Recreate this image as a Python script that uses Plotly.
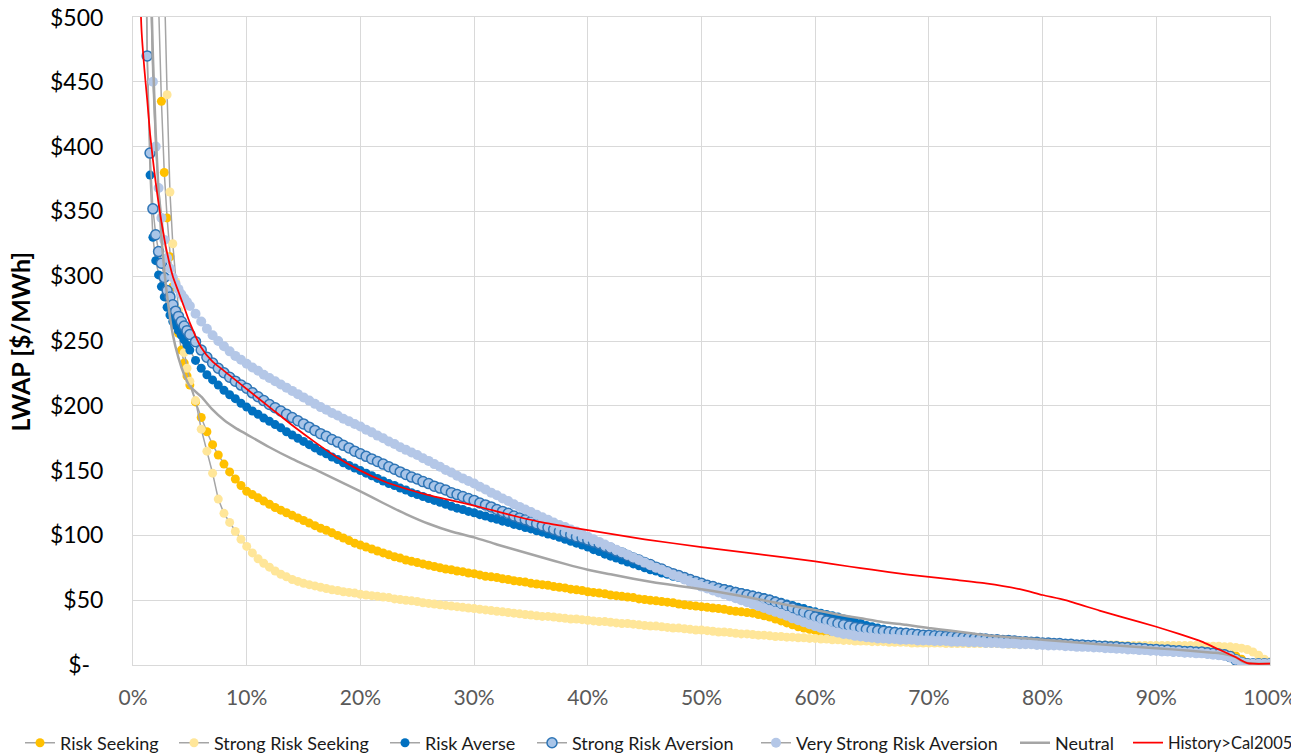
import plotly.graph_objects as go

# x grid: load-duration percentile (%)
X_FINE = [1.00, 1.25, 1.50, 1.75, 2.00, 2.25, 2.50, 2.75, 3.00, 3.25, 3.50, 3.75, 4.00, 4.25, 4.50, 4.75, 5.00]
X_COARSE = [5.5 + 0.5 * i for i in range(190)]
X_PCT = X_FINE + X_COARSE

RISK_SEEKING = [
    1500, 1200, 950, 780, 620, 510, 435, 380, 345, 315, 292, 272, 256, 243, 233, 223, 216,
    203, 191, 180, 170, 162, 155, 149, 143.5, 138.5, 134,
    131.5, 129, 126.5, 124, 121.5, 119.5, 117.5, 115.5, 113.5, 111.5,
    109.5, 107.5, 105.5, 104, 102, 100, 98, 96, 94, 92.5,
    91, 89.5, 88, 86.5, 85, 83.5, 82.5, 81, 80, 79,
    78, 77, 76, 75, 74, 73.5, 72.5, 72, 71, 70.5,
    69.5, 68.5, 68, 67.5, 66.5, 66, 65, 64.5, 64, 63,
    62.5, 62, 61.5, 60.5, 60, 59.5, 58.5, 58, 57.5, 56.5,
    56, 55.5, 55, 54, 53.5, 53, 52.5, 52, 51, 50.5,
    50, 49.5, 49, 48.5, 48, 47, 46.5, 46, 45.5, 45,
    44.5, 44, 43.5, 43, 42, 41.5, 41, 40.5, 40, 39,
    38, 37, 35.5, 34, 32.5, 31, 29.5, 28.5, 27.5, 26.5,
    25.5, 24.5, 24, 23, 22.5, 22, 21.5, 21, 20.5, 20.5,
    20, 20, 19.5, 19.5, 19.5, 19, 19, 19, 18.5, 18.5,
    18.5, 18.5, 18, 18, 18, 18, 17.5, 17.5, 17.5, 17.5,
    17.5, 17, 17, 17, 17, 16.5, 16.5, 16.5, 16.5, 16,
    16, 16, 15.5, 15.5, 15.5, 15, 15, 15, 15, 14.5,
    14.5, 14.5, 14, 14, 14, 13.5, 13.5, 13.5, 13, 13,
    13, 12.5, 12.5, 12.5, 12, 12, 11.5, 11.5, 11, 11,
    10.5, 10, 9, 7, 4.5, 2, 1, 0.5, 0.5, 0.5,
]

STRONG_RISK_SEEKING = [
    2500, 2000, 1600, 1300, 1050, 850, 680, 530, 440, 365, 325, 296, 274, 256, 241, 229, 219,
    204, 182, 165, 148, 128, 117, 110, 103, 97, 91.5,
    86.5, 82, 78.5, 75.5, 72.5, 70, 68, 66, 64.5, 63,
    62, 61, 60, 59, 58, 57.5, 56.5, 56, 55.5, 54.5,
    54, 53.5, 53, 52.5, 52, 51, 50.5, 50, 49.5, 49,
    48, 47.5, 47, 46.5, 46, 45.5, 45, 44.5, 44, 43.5,
    43, 42.5, 42, 41.5, 41, 40.5, 40, 39.5, 39, 38.5,
    38, 37.5, 37.5, 37, 36.5, 36, 35.5, 35.5, 35, 34.5,
    34, 33.5, 33.5, 33, 32.5, 32, 32, 31.5, 31, 30.5,
    30, 30, 29.5, 29, 28.5, 28.5, 28, 27.5, 27, 27,
    26.5, 26, 25.5, 25.5, 25, 24.5, 24, 24, 23.5, 23,
    23, 22.5, 22, 22, 21.5, 21.5, 21, 21, 20.5, 20.5,
    20, 20, 19.5, 19.5, 19, 19, 18.5, 18.5, 18.5, 18,
    18, 18, 17.5, 17.5, 17.5, 17.5, 17, 17, 17, 17,
    17, 17, 16.5, 16.5, 16.5, 16.5, 16.5, 16.5, 16.5, 16.5,
    16.5, 16.5, 16.5, 16, 16, 16, 16, 16, 16, 16,
    16, 16, 16, 16, 15.5, 15.5, 15.5, 15.5, 15.5, 15.5,
    15.5, 15.5, 15.5, 15, 15, 15, 15, 15, 15, 15,
    15, 15, 15, 15, 15, 15, 15, 15, 14.5, 14.5,
    14.5, 14, 14, 13.5, 13, 12, 10, 7.5, 4.5, 2.5,
]

RISK_AVERSE = [
    620, 470, 378, 330, 312, 301, 292, 284, 276, 270, 265, 262, 258, 254.5, 251, 247, 243,
    235, 229, 224, 220, 216, 212, 208.5, 205.5, 202, 199,
    196, 193.5, 190.5, 188, 185.5, 183, 180, 177.5, 175, 172.5,
    170, 167.5, 165, 163, 160.5, 158.5, 156, 154, 152, 150,
    148, 146, 144, 142, 140, 138.5, 136.5, 135, 133, 131.5,
    130, 128.5, 127, 125.5, 124, 122.5, 121, 120, 118.5, 117.5,
    116, 115, 113.5, 112.5, 111, 110, 108.5, 107.5, 106, 105,
    103.5, 102.5, 101, 100, 98.5, 97, 95.5, 94, 92.5, 91,
    89, 87.5, 85.5, 84, 82.5, 81, 79.5, 78, 76.5, 75,
    73.5, 72.5, 71, 70, 68.5, 67.5, 66, 65, 64, 63,
    62, 61, 60, 59, 58, 57, 56, 55, 54, 53,
    52, 51, 49.5, 48.5, 47, 46, 44.5, 43.5, 42, 41,
    40, 39, 38, 37, 35.5, 34.5, 33, 32, 30.5, 29.5,
    28.5, 27.5, 26.5, 26, 25.5, 25, 24.5, 24, 23.5, 23,
    22.5, 22, 22, 21.5, 21.5, 21, 21, 20.5, 20.5, 20,
    19.5, 19.5, 19, 19, 18.5, 18, 18, 17.5, 17.5, 17,
    17, 16.5, 16.5, 16, 16, 15.5, 15.5, 15, 15, 14.5,
    14.5, 14, 14, 13.5, 13.5, 13, 13, 12.5, 12.5, 12,
    12, 11.5, 11.5, 11, 11, 10.5, 10.5, 10, 10, 9.5,
    9, 8.5, 7, 4.5, 2, 1, 0.5, 0.5, 0.5, 0.5,
]

STRONG_RISK_AVERSION = [
    700, 470, 395, 352, 332, 319, 310, 299, 289, 284, 278, 273, 269, 265, 261.5, 258, 255,
    249.5, 243, 237.5, 233, 229, 225.5, 222, 219, 216, 213.5,
    210, 207, 204, 201, 198.5, 196, 193.5, 191, 188.5, 186,
    183.5, 181, 178.5, 176.5, 174, 172, 169.5, 167.5, 165, 163,
    161, 159, 157, 155, 153, 151, 149, 147, 145, 143.5,
    141.5, 140, 138, 136.5, 135, 133, 131.5, 130, 128.5, 127,
    125, 123.5, 122, 120, 118.5, 117, 115, 113.5, 112, 110.5,
    109, 107.5, 106, 104.5, 103, 102, 100.5, 99, 98, 96.5,
    95, 93.5, 91.5, 90, 88, 86.5, 84.5, 82.5, 81, 79,
    77.5, 75.5, 74, 72, 70.5, 69, 67.5, 66, 64.5, 63,
    61.5, 60.5, 59, 58, 57, 56, 55, 54, 53, 52,
    51, 50, 48.5, 47, 45.5, 44, 42, 40.5, 38.5, 37,
    35.5, 34, 33, 32, 31, 30, 29, 28.5, 27.5, 27,
    26.5, 26, 25.5, 25, 24.5, 24.5, 24, 23.5, 23, 23,
    22.5, 22.5, 22, 22, 21.5, 21, 21, 20.5, 20.5, 20,
    19.5, 19.5, 19, 19, 18.5, 18, 18, 17.5, 17.5, 17,
    17, 16.5, 16.5, 16, 16, 15.5, 15.5, 15, 15, 14.5,
    14.5, 14, 14, 13.5, 13.5, 13, 13, 12.5, 12, 12,
    11.5, 11.5, 11, 11, 10.5, 10.5, 10, 10, 9.5, 9,
    8.5, 8, 6.5, 4, 2, 1, 1, 1, 1, 1,
]

VERY_STRONG_RISK_AVERSION = [
    1000, 700, 540, 450, 400, 368, 345, 328, 314, 306, 299, 294, 290, 286, 283, 280, 277,
    271, 265, 259.5, 254.5, 250, 246, 242, 238.5, 235.5, 232.5,
    229.5, 227, 224, 221.5, 219, 216.5, 214, 211.5, 209, 206.5,
    204, 201.5, 199, 197, 194.5, 192.5, 190, 188, 186, 184,
    181.5, 179.5, 177, 175, 172.5, 170.5, 168, 166, 164, 162,
    159.5, 157.5, 155, 153, 150.5, 148.5, 146, 144, 142, 140,
    137.5, 135.5, 133, 131, 128.5, 126.5, 124, 122, 120, 118,
    116, 114, 112, 110, 108, 106.5, 104.5, 103, 101, 99,
    97, 95, 93, 91, 89, 87, 85, 83, 81, 79,
    77, 75, 73.5, 71.5, 69.5, 68, 66, 64, 62.5, 60.5,
    59, 57.5, 56, 54.5, 53, 51.5, 50, 48.5, 47, 45.5,
    44, 42.5, 41, 39.5, 38, 36, 34.5, 33, 31.5, 30,
    28.5, 27.5, 26, 25, 24, 23.5, 22.5, 22, 21.5, 21,
    20.5, 20.5, 20, 20, 19.5, 19.5, 19.5, 19, 19, 19,
    18.5, 18.5, 18.5, 18, 18, 18, 17.5, 17.5, 17.5, 17,
    17, 17, 16.5, 16.5, 16.5, 16, 16, 16, 15.5, 15.5,
    15, 15, 15, 14.5, 14.5, 14, 14, 14, 13.5, 13.5,
    13, 13, 12.5, 12.5, 12, 12, 11.5, 11.5, 11, 11,
    10.5, 10.5, 10, 10, 9.5, 9.5, 9, 9, 8.5, 8,
    7.5, 7, 6, 4, 2, 1, 1, 1, 1, 1,
]

NEUTRAL_X = [1.0, 1.25, 1.5, 1.75, 2.0, 2.25, 2.5, 2.75, 3.0, 3.5, 4.0, 4.5, 5, 6, 7, 8, 9, 10,
             12, 14, 16, 18, 20, 22, 24, 26, 28, 30, 32, 34, 36, 38, 40, 42, 44, 46, 48, 50,
             52, 54, 56, 58, 60, 62, 64, 66, 68, 70, 72, 75, 80, 85, 90, 93, 95, 96, 97, 97.5,
             98, 99, 100]
NEUTRAL_Y = [900, 700, 560, 470, 410, 365, 330, 305, 285, 255, 237, 224, 215, 207, 197, 189, 183, 178,
             168, 159, 151, 142.5, 134, 125, 116.5, 109, 103, 98.5, 93, 88, 83, 78, 73.5, 70, 66.5, 63.5, 61, 58.5,
             55.5, 52.5, 49, 45.5, 42.5, 39, 36, 33, 31, 28.5, 26.5, 23, 19.5, 16, 13, 11, 9.5, 8.5, 6, 3,
             1.5, 1, 1]

HISTORY_X = [0.5, 0.75, 1.0, 1.25, 1.5, 1.75, 2.0, 2.5, 3.0, 3.5, 4.0, 4.5, 5, 6, 7, 8, 9, 10,
             12, 14, 16, 18, 20, 22, 24, 26, 28, 30, 32, 34, 36, 38, 40, 45, 50, 55, 60, 63, 65,
             68, 70, 72, 75, 78, 80, 82, 85, 87, 90, 92, 94, 95, 96, 97, 97.5, 98, 98.5, 100]
HISTORY_Y = [560, 490, 460, 436, 410, 390, 372, 342, 318, 300, 288, 276, 264, 245, 234, 227, 220, 213,
             199, 185, 172, 160, 150, 142, 136, 131, 127, 123, 118.5, 114, 110, 107, 104, 97, 91, 85.5, 80, 76, 73.5,
             70, 68, 66, 63, 58.5, 54, 50, 42, 37, 29.5, 24, 18, 14, 10, 6, 3.5, 1.5, 1, 1]

Y_TICKS = [0, 50, 100, 150, 200, 250, 300, 350, 400, 450, 500]
Y_TICK_TEXT = ["$-\u2007", "$50", "$100", "$150", "$200", "$250", "$300", "$350", "$400", "$450", ""]
Y_TOP_LABEL = "$500"
X_TICKS = [0, 10, 20, 30, 40, 50, 60, 70, 80, 90, 100]
X_TICK_TEXT = ["0%", "10%", "20%", "30%", "40%", "50%", "60%", "70%", "80%", "90%", "100%"]

FONT = "Lato, 'Open Sans', sans-serif"
GRAY_LINE = "#A5A5A5"
W, H = 1299, 753

# legend entry left edges (px in the figure) -- one small legend per series
LEGEND_LEFT = [12, 166, 377, 524, 748, 1007, 1120]
LEGEND_FONT = [18, 18, 18, 18, 18, 18, 16.5]

fig = go.Figure()

marker_series = [
    ("Risk Seeking", RISK_SEEKING, dict(color="#FFC000", size=9)),
    ("Strong Risk Seeking", STRONG_RISK_SEEKING, dict(color="#FFE699", size=9)),
    ("Risk Averse", RISK_AVERSE, dict(color="#0070C0", size=9)),
    ("Strong Risk Aversion", STRONG_RISK_AVERSION,
     dict(color="#A9C5E8", size=10, line=dict(color="#2E75B6", width=1.5))),
    ("Very Strong Risk Aversion", VERY_STRONG_RISK_AVERSION, dict(color="#B4C7E7", size=10)),
]
legend_names = ["legend"] + [f"legend{i}" for i in range(2, 8)]
for i, (name, ys, mk) in enumerate(marker_series):
    fig.add_trace(go.Scatter(
        x=X_PCT, y=ys, name=name, mode="lines+markers", legend=legend_names[i],
        line=dict(color=GRAY_LINE, width=1.5), marker=mk,
    ))

fig.add_trace(go.Scatter(x=NEUTRAL_X, y=NEUTRAL_Y, name="Neutral", mode="lines", legend=legend_names[5],
                         line=dict(color=GRAY_LINE, width=2.5, shape="spline", smoothing=0.6)))
fig.add_trace(go.Scatter(x=HISTORY_X, y=HISTORY_Y, name="History>Cal2005", mode="lines", legend=legend_names[6],
                         line=dict(color="#FF0000", width=1.75, shape="spline", smoothing=0.6)))

legend_layout = {}
for i, ln in enumerate(legend_names):
    legend_layout[ln] = dict(
        orientation="h", xref="container", yref="container",
        x=LEGEND_LEFT[i] / W, xanchor="left", y=1 - 735 / H, yanchor="middle",
        font=dict(size=LEGEND_FONT[i], color="#1a1a1a", family=FONT), itemwidth=30,
        bgcolor="rgba(0,0,0,0)", borderwidth=0,
    )

fig.update_layout(
    width=W, height=H,
    margin=dict(l=124.5, r=36.5, t=9, b=96, autoexpand=False),
    paper_bgcolor="white", plot_bgcolor="white",
    font=dict(family=FONT, color="#000000"),
    showlegend=True,
    xaxis=dict(range=[0, 100], tickvals=X_TICKS, ticktext=X_TICK_TEXT, showgrid=True,
               gridcolor="#D9D9D9", gridwidth=1, zeroline=False, showline=True, mirror=True,
               linecolor="#D9D9D9", ticks="outside", ticklen=14, tickcolor="rgba(0,0,0,0)",
               tickfont=dict(size=21, color="#595959", family=FONT), fixedrange=True,
               automargin=False),
    yaxis=dict(range=[0, 500], tickvals=Y_TICKS, ticktext=Y_TICK_TEXT, showgrid=True,
               gridcolor="#D9D9D9", gridwidth=1, zeroline=False, showline=True, mirror=True,
               linecolor="#D9D9D9", ticks="outside", ticklen=24, tickcolor="rgba(0,0,0,0)",
               tickfont=dict(size=23, color="#000000", family=FONT), fixedrange=True,
               automargin=False),
    annotations=[
        dict(text="<b>LWAP [$/MWh]</b>", textangle=-90, x=-0.099, y=0.5,
             xref="paper", yref="paper", showarrow=False, xanchor="center", yanchor="middle",
             font=dict(size=25, color="#000000", family=FONT)),
        dict(text=Y_TOP_LABEL, x=-0.0245, y=500, xref="paper", yref="y", showarrow=False,
             xanchor="right", yanchor="middle", font=dict(size=23, color="#000000", family=FONT)),
    ],
    **legend_layout,
)

fig.write_html("out.html")
